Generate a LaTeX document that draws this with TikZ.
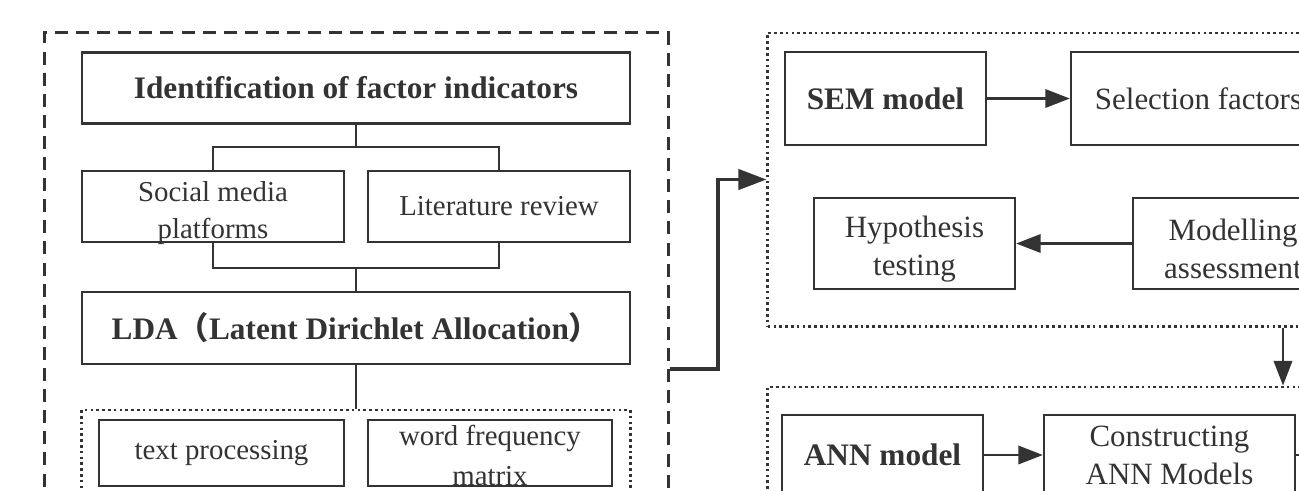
\documentclass[tikz,border=0pt]{standalone}
\usepackage{fontspec}
\setmainfont{Liberation Serif}
\newfontfamily\cjkparen{Noto Sans CJK SC}
\usetikzlibrary{arrows.meta}

\begin{document}
\begin{tikzpicture}[x=0.01cm,y=-0.01cm,
  every node/.style={text=black!80, inner sep=0pt},
  box/.style 2 args={draw=black!80, line width=0.6pt, minimum width=#1, minimum height=#2},
  lefttxt/.style={font=\fontsize{8.2}{10.5}\selectfont, align=center},
  righttxt/.style={font=\fontsize{8.8}{10.8}\selectfont, align=center},
  boldtxt/.style={font=\fontsize{8.9}{10.8}\selectfont\bfseries},
  link/.style={draw=black!80, line width=0.4pt},
  arrow/.style={draw=black!80, line width=0.75pt, -{Triangle[length=7pt,width=5.2pt]}},
  bigarrow/.style={draw=black!80, line width=0.95pt, -{Triangle[length=8pt,width=5.8pt]}},
  dashgroup/.style={draw=black!80, line width=0.85pt, dash pattern=on 3.7pt off 2.3pt},
  dotgroup/.style={draw=black!80, line width=0.8pt, dash pattern=on 0.75pt off 0.9pt}]
  \useasboundingbox (0,0) rectangle (1299,490);
  \clip (0,0) rectangle (1299,490);

  \node[dashgroup, minimum width=6.234cm, minimum height=5.27cm] (leftgroup) at (356.3,296.5) {};
  \node[box={5.47cm}{0.71cm}, boldtxt] (ident) at (356,88) {Identification of factor indicators};
  \node[box={2.61cm}{0.71cm}] (social) at (213,206.5) {};
  \node[lefttxt] at ([yshift=-0.063cm]social.center) {Social media\\platforms};
  \node[box={2.61cm}{0.71cm}, lefttxt] (litrev) at (499,206.5) {Literature review};
  \node[box={5.47cm}{0.72cm}, boldtxt] (lda) at (356,328) {LDA{\cjkparen （}Latent Dirichlet Allocation{\cjkparen ）}};
  \node[dotgroup, minimum width=5.48cm, minimum height=1.1cm] (ldagroup) at (356,465) {};
  \node[box={2.44cm}{0.66cm}, lefttxt] (textproc) at (221.5,453) {text processing};
  \node[box={2.44cm}{0.66cm}] (wordfreq) at (490,453) {};
  \node[lefttxt] at ([yshift=-0.024cm]wordfreq.center) {word frequency\\[1pt]matrix};

  \coordinate (split) at (356,147);
  \coordinate (merge) at (356,268);
  \draw[link] (ident) -- (split);
  \draw[link] (social) |- (split) -| (litrev);
  \draw[link] (social) |- (merge) -| (litrev);
  \draw[link] (merge) -- (lda);
  \draw[link] (lda) -- (ldagroup);

  \node[dotgroup, minimum width=5.8cm, minimum height=2.93cm] (semgroup) at (1058,179.5) {};
  \node[box={2.01cm}{0.93cm}, boldtxt] (sem) at (885.5,98.5) {SEM model};
  \node[box={2.55cm}{0.93cm}, righttxt] (select) at (1198.5,98.5) {Selection factors};
  \node[box={2.01cm}{0.91cm}] (hypo) at (914.5,243.5) {};
  \node[righttxt] at ([yshift=-0.053cm]hypo.center) {Hypothesis\\testing};
  \node[box={2.00cm}{0.91cm}] (assess) at (1233,243.5) {};
  \node[righttxt] at ([yshift=-0.053cm]assess.center) {Modelling\\assessment};
  \draw[arrow] (sem) -- (select);
  \draw[arrow] (assess) -- (hypo);

  \node[dotgroup, minimum width=5.8cm, minimum height=1.5cm] (anngroup) at (1058,462) {};
  \node[box={2.01cm}{0.8cm}, boldtxt] (ann) at (882.5,455) {ANN model};
  \node[box={2.51cm}{0.8cm}] (construct) at (1169.5,455) {};
  \node[righttxt] at ([yshift=-0.002cm]construct.center) {Constructing\\ANN Models};
  \coordinate (offright) at (1340,455);
  \draw[arrow] (ann) -- (construct);
  \draw[arrow] (construct) -- (offright);

  \draw[arrow] (semgroup.south -| 1283,0) -- (anngroup.north -| 1283,0);
  \draw[bigarrow] (leftgroup.east |- 0,369) -- (718,369) |- (semgroup.west);
\end{tikzpicture}
\end{document}
